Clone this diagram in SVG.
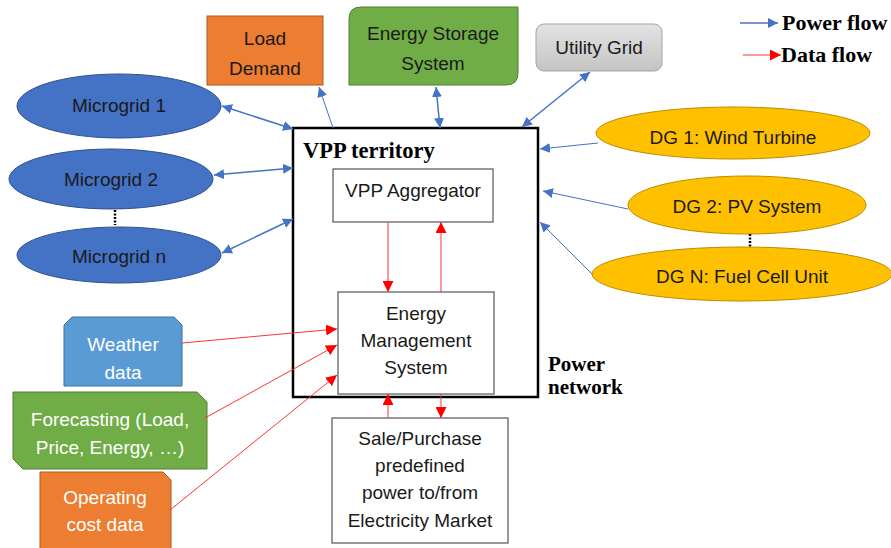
<svg xmlns="http://www.w3.org/2000/svg" width="891" height="548" viewBox="0 0 891 548">
<defs>
<marker id="bh" viewBox="0 0 10 10" refX="10" refY="5" markerWidth="10" markerHeight="10" markerUnits="userSpaceOnUse" orient="auto-start-reverse"><path d="M0,0 L10,5 L0,10 z" fill="#4472C4"/></marker>
<marker id="rh" viewBox="0 0 10 10" refX="10" refY="5" markerWidth="11" markerHeight="11" markerUnits="userSpaceOnUse" orient="auto-start-reverse"><path d="M0,0 L10,5 L0,10 z" fill="#FF0000"/></marker>
<linearGradient id="gg" x1="0" y1="0" x2="0" y2="1"><stop offset="0" stop-color="#E3E3E3"/><stop offset="1" stop-color="#C4C4C4"/></linearGradient>
</defs>
<style>
text{font-family:"Liberation Sans",Arial,sans-serif;font-size:19px;fill:#1a1a1a;text-anchor:middle}
.w{fill:#ffffff}
.b{font-family:"Liberation Serif","Times New Roman",serif;font-weight:bold;font-size:22px;text-anchor:start;fill:#000}
.mg{fill:#4472C4;stroke:#2F528F;stroke-width:1}
.dg{fill:#FFC000;stroke:#BC8C00;stroke-width:1}
.box{fill:#ffffff;stroke:#555;stroke-width:1.2}
.pw{stroke:#4472C4;stroke-width:1.5;fill:none}
.dt{stroke:#FF3333;stroke-width:1;fill:none}
.dots{stroke:#000;stroke-width:2.5;stroke-dasharray:2 1.5}
</style>
<rect width="891" height="548" fill="#ffffff"/>

<g id="load-demand"><rect x="207" y="16" width="116" height="69" fill="#ED7D31" stroke="#AE5A21"/><text x="265" y="45">Load</text><text x="265" y="75">Demand</text></g>
<g id="energy-storage"><path d="M361,7 H518 V73 Q518,85 506,85 H349 V19 Q349,7 361,7 z" fill="#70AD47" stroke="#507E32"/><text x="433" y="40">Energy Storage</text><text x="433" y="70">System</text></g>
<g id="utility-grid"><rect x="536" y="24" width="126" height="47" rx="8" fill="url(#gg)" stroke="#A5A5A5"/><text x="599" y="54">Utility Grid</text></g>

<g id="legend">
<line class="pw" x1="740" y1="23" x2="778" y2="23" marker-end="url(#bh)"/>
<text class="b" x="782" y="30">Power flow</text>
<line class="dt" x1="743" y1="55" x2="781" y2="55" marker-end="url(#rh)"/>
<text class="b" x="781" y="62">Data flow</text>
</g>

<g id="vpp-territory"><rect x="293" y="128" width="245" height="269" fill="none" stroke="#000" stroke-width="2.5"/><text class="b" x="303" y="158" style="font-size:22.5px">VPP territory</text></g>
<g id="vpp-aggregator"><rect class="box" x="333" y="169" width="160" height="53"/><text x="413" y="197">VPP Aggregator</text></g>
<g id="ems"><rect class="box" x="338" y="292" width="156" height="102"/><text x="416" y="320">Energy</text><text x="416" y="347">Management</text><text x="416" y="374">System</text></g>
<g id="market"><rect class="box" x="332" y="418" width="176" height="125"/><text x="420" y="445">Sale/Purchase</text><text x="420" y="472">predefined</text><text x="420" y="499">power to/from</text><text x="420" y="527">Electricity Market</text></g>
<g id="power-network"><text class="b" x="548" y="371" style="font-size:21px">Power</text><text class="b" x="548" y="394" style="font-size:21px">network</text></g>

<g id="microgrid-1"><ellipse class="mg" cx="119" cy="106" rx="102" ry="32"/><text x="119" y="112">Microgrid 1</text></g>
<g id="microgrid-2"><ellipse class="mg" cx="111" cy="179" rx="102" ry="30"/><text x="111" y="186">Microgrid 2</text></g>
<line class="dots" x1="115" y1="210" x2="115" y2="225"/>
<g id="microgrid-n"><ellipse class="mg" cx="119" cy="255" rx="102" ry="28"/><text x="119" y="263">Microgrid n</text></g>

<g id="dg-1"><ellipse class="dg" cx="733" cy="133" rx="137" ry="26"/><text x="733" y="144">DG 1: Wind Turbine</text></g>
<g id="dg-2"><ellipse class="dg" cx="747" cy="205" rx="119" ry="29"/><text x="747" y="213">DG 2: PV System</text></g>
<line class="dots" x1="750" y1="234" x2="750" y2="247"/>
<g id="dg-n"><ellipse class="dg" cx="742" cy="274" rx="150" ry="27"/><text x="742" y="283">DG N: Fuel Cell Unit</text></g>

<g id="weather"><path d="M72,317 H174 L182,325 V386 H64 V325 z" fill="#5B9BD5" stroke="#41719C"/><text class="w" x="123" y="351">Weather</text><text class="w" x="123" y="379">data</text></g>
<g id="forecasting"><path d="M13,392 H197 L207,402 V469 H23 L13,459 z" fill="#70AD47" stroke="#507E32"/><text class="w" x="110" y="426">Forecasting (Load,</text><text class="w" x="110" y="454">Price, Energy, …)</text></g>
<g id="operating-cost"><path d="M40,472 H163 L171,480 V549 H40 z" fill="#ED7D31" stroke="#AE5A21"/><text class="w" x="105" y="504">Operating</text><text class="w" x="105" y="531">cost data</text></g>

<g id="connectors">
<line class="pw" x1="222" y1="106" x2="293" y2="129" marker-start="url(#bh)" marker-end="url(#bh)"/>
<line class="pw" x1="214" y1="175" x2="293" y2="168" marker-start="url(#bh)" marker-end="url(#bh)"/>
<line class="pw" x1="222" y1="253" x2="293" y2="219" marker-start="url(#bh)" marker-end="url(#bh)"/>
<line class="pw" x1="333" y1="128" x2="319" y2="87" marker-end="url(#bh)" style="stroke-width:1"/>
<line class="pw" x1="436" y1="87" x2="440" y2="128" marker-start="url(#bh)" marker-end="url(#bh)"/>
<line class="pw" x1="522" y1="127" x2="590" y2="72" marker-start="url(#bh)" marker-end="url(#bh)"/>
<line class="pw" x1="598" y1="143" x2="540" y2="149" marker-end="url(#bh)" style="stroke-width:1"/>
<line class="pw" x1="628" y1="209" x2="543" y2="191" marker-end="url(#bh)" style="stroke-width:1"/>
<line class="pw" x1="592" y1="274" x2="540" y2="222" marker-end="url(#bh)" style="stroke-width:1"/>
<line class="dt" x1="388" y1="222" x2="388" y2="292" marker-end="url(#rh)"/>
<line class="dt" x1="441" y1="292" x2="441" y2="222" marker-end="url(#rh)"/>
<line class="dt" x1="388" y1="418" x2="388" y2="394" marker-end="url(#rh)"/>
<line class="dt" x1="441" y1="394" x2="441" y2="418" marker-end="url(#rh)"/>
<line class="dt" x1="182" y1="343" x2="337" y2="329" marker-end="url(#rh)"/>
<line class="dt" x1="205" y1="418" x2="337" y2="345" marker-end="url(#rh)"/>
<line class="dt" x1="170" y1="510" x2="337" y2="375" marker-end="url(#rh)"/>
</g>
</svg>
